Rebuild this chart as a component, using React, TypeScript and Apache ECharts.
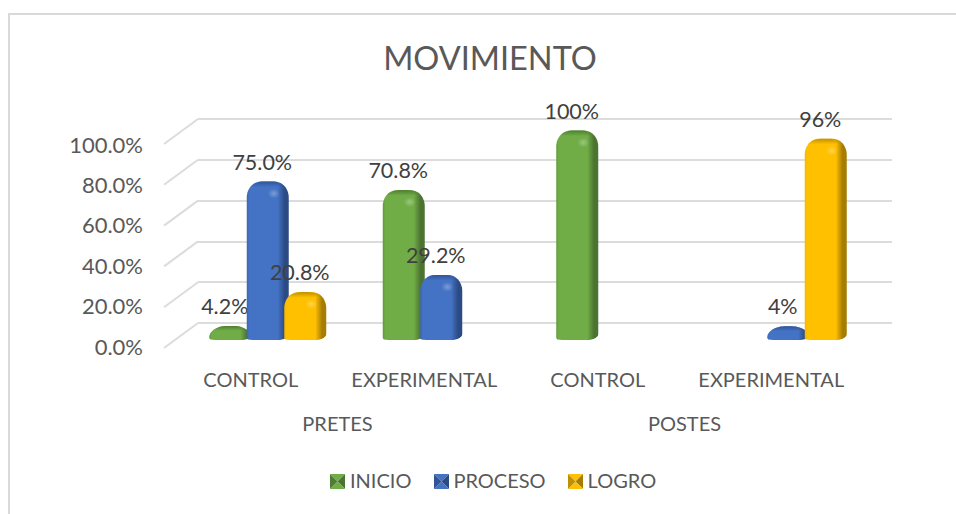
import React, { useEffect, useRef } from "react";
import * as echarts from "echarts";

const title = "MOVIMIENTO";
const fontFamily = "Lato";
const textColor = "#595959";
const categories = ["CONTROL", "EXPERIMENTAL", "CONTROL", "EXPERIMENTAL"];
const groups = ["PRETES", "POSTES"];
const seriesNames = ["INICIO", "PROCESO", "LOGRO"];
const inicio: (number | null)[] = [4.2, 70.8, 100, null];
const proceso: (number | null)[] = [75.0, 29.2, null, 4];
const logro: (number | null)[] = [20.8, null, null, 96];
const inicioLabels = ["4.2%", "70.8%", "100%", ""];
const procesoLabels = ["75.0%", "29.2%", "", "4%"];
const logroLabels = ["20.8%", "", "", "96%"];
const ticks = [0, 20, 40, 60, 80, 100];

const palettes = [
  { main: "#70ad47", edge: "#4b7430", side: "#5f9a3a", top: "#4f7d31" },
  { main: "#4472c4", edge: "#2b4b84", side: "#3a66b4", top: "#2f5597" },
  { main: "#ffc000", edge: "#a67d00", side: "#f5b800", top: "#bf9000" },
];

const gradient = (x2: number, y2: number, stops: [number, string][]) =>
  new echarts.graphic.LinearGradient(
    0,
    0,
    x2,
    y2,
    stops.map(([offset, color]) => ({ offset, color })),
  );

function barOutline(x0: number, x1: number, top: number, base: number) {
  const pts: number[][] = [];
  const w = x1 - x0;
  const h = base - top;
  const low = h < 20;
  const rx = w * (low ? 0.42 : 0.34);
  const ry = Math.min(h * (low ? 0.8 : 1), 16);
  const n = 14;
  for (let i = 0; i <= n; i++) {
    const a = (Math.PI / 2) * (i / n);
    pts.push([x0 + rx - rx * Math.cos(a), top + ry - ry * Math.sin(a)]);
  }
  for (let i = n; i >= 0; i--) {
    const a = (Math.PI / 2) * (i / n);
    pts.push([x1 - rx + rx * Math.cos(a), top + ry - ry * Math.sin(a)]);
  }
  const lift = Math.min(6, h * 0.3);
  for (let i = 0; i <= 8; i++) {
    const a = (Math.PI / 2) * (i / 8);
    pts.push([x1 - 11 + 11 * Math.cos(a), base - lift + lift * Math.sin(a)]);
  }
  pts.push([x0 + 6, base]);
  pts.push([x0 + 1, base - 0.5]);
  pts.push([x0, base - Math.min(2, h * 0.15)]);
  return pts;
}

function makeBarSeries(idx: number, data: (number | null)[], labels: string[]) {
  const p = palettes[idx];
  return {
    name: seriesNames[idx],
    type: "custom",
    xAxisIndex: 0,
    yAxisIndex: 0,
    itemStyle: { color: p.main },
    encode: { x: 0, y: 1 },
    data: data.map((v, i) => [i, v]),
    z: 5 + idx,
    clip: false,
    renderItem: (_params: any, api: any) => {
      const v = api.value(1);
      if (v === null || v === undefined || Number.isNaN(v)) return null;
      const cat = api.value(0);
      const [cx0, yTop] = api.coord([cat, v]);
      const [, yBase] = api.coord([cat, 0]);
      const cx = cx0 + 17 + (idx - 1) * 37.5;
      const halfW = 21;
      const x0 = cx - halfW;
      const x1 = cx + halfW;
      const base = yBase - 8;
      const top = yTop - 13.5;
      const outline = barOutline(x0, x1, top, base);
      const h = base - top;
      const capH = Math.min(h, 16);
      const capOutline = barOutline(x0, x1, top, top + capH);
      const children: any[] = [
        {
          type: "polygon",
          shape: { points: outline },
          style: {
            fill: gradient(1, 0, [
              [0, p.side],
              [0.06, p.main],
              [0.74, p.main],
              [0.9, p.edge],
              [1, p.edge],
            ]),
          },
        },
        {
          type: "polygon",
          shape: { points: capOutline },
          style: {
            fill: gradient(0, 1, [
              [0, p.top],
              [0.35, p.top + "00"],
              [1, p.top + "00"],
            ]),
          },
        },
      ];
      if (h > 22) {
        children.push({
          type: "ellipse",
          shape: { cx: cx + 6, cy: top + 12, rx: 6, ry: 5 },
          style: {
            fill: new echarts.graphic.RadialGradient(0.5, 0.5, 0.5, [
              { offset: 0, color: "rgba(255,255,255,0.3)" },
              { offset: 1, color: "rgba(255,255,255,0)" },
            ]),
          },
        });
      }
      children.push({
        type: "text",
        style: {
          text: labels[cat],
          x: cx - 5.5,
          y: top - 20,
          align: "center",
          verticalAlign: "middle",
          fill: "#404040",
          font: `21.5px ${fontFamily}`,
        },
      });
      return { type: "group", children };
    },
  };
}

export default function App() {
  const ref = useRef<HTMLDivElement>(null);
  useEffect(() => {
    if (!ref.current) return;
    const chart = echarts.init(ref.current, undefined, { renderer: "svg" });
    const pyramid = (x: number, i: number) => {
      const p = palettes[i];
      const y = 474;
      const s = 15;
      const c = [x + s / 2, y + s / 2];
      const tri = (a: number[], b: number[], fill: string) => ({
        type: "polygon",
        silent: true,
        z: 100,
        shape: { points: [a, b, c] },
        style: { fill },
      });
      return [
        tri([x, y], [x + s, y], p.main),
        tri([x + s, y], [x + s, y + s], p.edge),
        tri([x + s, y + s], [x, y + s], p.main),
        tri([x, y + s], [x, y], p.top),
      ];
    };
    chart.setOption({
      animation: false,
      backgroundColor: "#ffffff",
      title: {
        text: title,
        left: 485,
        top: 36,
        textAlign: "center",
        textStyle: {
          fontFamily,
          fontSize: 32.5,
          fontWeight: "normal",
          color: textColor,
        },
      },
      grid: [
        { left: 164, width: 694, top: 144, height: 204 },
        { left: 198, width: 694, top: 119, height: 204 },
        { left: 164, width: 694, top: 144, height: 202 },
      ],
      xAxis: [
        {
          type: "category",
          gridIndex: 0,
          data: categories,
          axisLine: { show: false },
          axisTick: { show: false },
          axisLabel: {
            fontFamily,
            fontSize: 20,
            color: textColor,
            margin: 21,
            interval: 0,
          },
        },
        {
          type: "category",
          gridIndex: 0,
          position: "bottom",
          offset: 65,
          data: groups,
          axisLine: { show: false },
          axisTick: { show: false },
          axisLabel: { fontFamily, fontSize: 20, color: textColor, margin: 0 },
        },
        { type: "category", gridIndex: 1, data: categories, show: false },
        { type: "category", gridIndex: 2, data: categories, show: false },
      ],
      yAxis: [
        {
          type: "value",
          gridIndex: 0,
          min: 0,
          max: 100,
          interval: 20,
          axisLine: { show: false },
          axisTick: { show: false },
          splitLine: { show: false },
          axisLabel: { show: false },
        },
        {
          type: "value",
          gridIndex: 1,
          min: 0,
          max: 100,
          interval: 20,
          axisLine: { show: false },
          axisTick: { show: false },
          axisLabel: { show: false },
          splitLine: { show: true, lineStyle: { color: "#dcdcdc", width: 2 } },
        },
        {
          type: "value",
          gridIndex: 2,
          min: 0,
          max: 100,
          interval: 20,
          axisLine: { show: false },
          axisTick: { show: false },
          splitLine: { show: false },
          axisLabel: {
            fontFamily,
            fontSize: 22,
            color: textColor,
            margin: 21,
            formatter: (v: number) => `${v.toFixed(1)}%`,
          },
        },
      ],
      legend: {
        left: 330,
        top: 470,
        padding: 0,
        icon: "rect",
        itemWidth: 15,
        itemHeight: 15,
        itemGap: 22,
        data: seriesNames.map((name) => ({ name, itemStyle: { opacity: 0 } })),
        textStyle: { fontFamily, fontSize: 20, color: textColor },
        selectedMode: false,
      },
      graphic: [
        {
          type: "polyline",
          silent: true,
          shape: { points: [[9, 514], [9, 14], [956, 14]] },
          style: { stroke: "#d9d9d9", fill: "none", lineWidth: 2 },
        },
        ...pyramid(330, 0),
        ...pyramid(434, 1),
        ...pyramid(568, 2),
      ],
      series: [
        {
          name: "walls",
          type: "custom",
          xAxisIndex: 0,
          yAxisIndex: 0,
          z: 1,
          silent: true,
          data: ticks.map((t) => [0, t]),
          encode: { y: 1 },
          renderItem: (params: any, api: any) => {
            const [, y] = api.coord([0, api.value(1)]);
            const x = params.coordSys.x;
            return {
              type: "line",
              shape: { x1: x, y1: y, x2: x + 34, y2: y - 25 },
              style: { stroke: "#dcdcdc", lineWidth: 2, fill: "none" },
            };
          },
        },
        makeBarSeries(0, inicio, inicioLabels),
        makeBarSeries(1, proceso, procesoLabels),
        makeBarSeries(2, logro, logroLabels),
      ],
    } as any);
    return () => chart.dispose();
  }, []);
  return (
    <div
      ref={ref}
      style={{ position: "absolute", left: 0, top: 0, width: 956, height: 514 }}
    />
  );
}
